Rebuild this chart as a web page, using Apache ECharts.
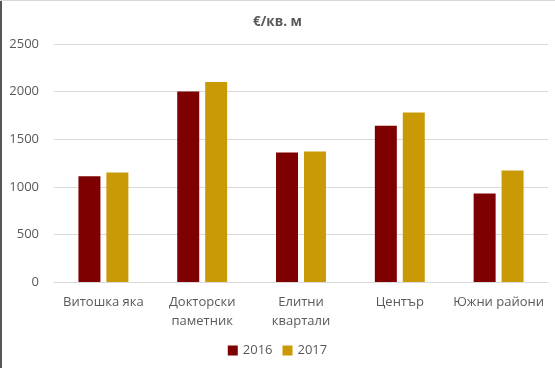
<!DOCTYPE html>
<html><head><meta charset="utf-8">
<script src="https://cdn.jsdelivr.net/npm/echarts@6/dist/echarts.min.js"></script>
<style>html,body{margin:0;padding:0;background:#fff}#c{width:555px;height:368px}</style>
</head><body><div id="c"></div>
<script>
const categories = ['Витошка яка', 'Докторски\nпаметник', 'Елитни\nквартали', 'Център', 'Южни райони'];
const values2016 = [1110, 2000, 1360, 1640, 930];
const values2017 = [1150, 2100, 1370, 1780, 1170];
const seriesNames = ['2016', '2017'];
const yTicks = [0, 500, 1000, 1500, 2000, 2500];

const font = '"Open Sans", "Noto Sans", sans-serif';
const chart = echarts.init(document.getElementById('c'), null, {renderer: 'canvas'});
chart.setOption({
  animation: false,
  backgroundColor: '#fff',
  title: {
    text: '€/кв. м', left: 'center', top: 10,
    textStyle: {fontFamily: font, fontSize: 13.5, fontWeight: 'bold', color: '#595959'}
  },
  legend: {
    data: seriesNames, bottom: 6, left: 'center',
    itemWidth: 10, itemHeight: 10, itemGap: 10, icon: 'rect',
    textStyle: {fontFamily: font, fontSize: 13, color: '#595959'}
  },
  grid: {left: 54, right: 7, top: 44, bottom: 86},
  xAxis: {
    type: 'category', data: categories,
    axisLine: {lineStyle: {color: '#d9d9d9'}},
    axisTick: {show: false},
    axisLabel: {fontFamily: font, fontSize: 13, color: '#595959', margin: 11, lineHeight: 19, interval: 0}
  },
  yAxis: {
    type: 'value', min: yTicks[0], max: yTicks[yTicks.length - 1], interval: 500,
    axisLine: {show: false}, axisTick: {show: false},
    splitLine: {lineStyle: {color: '#d9d9d9'}},
    axisLabel: {fontFamily: font, fontSize: 13, color: '#595959', margin: 15,
      formatter: v => String(v)}
  },
  series: [
    {name: seriesNames[0], type: 'bar', data: values2016, barWidth: 22, barGap: '27%', itemStyle: {color: '#7f0000'}},
    {name: seriesNames[1], type: 'bar', data: values2017, barWidth: 22, itemStyle: {color: '#c99a06'}}
  ],
  graphic: [
    {type: 'rect', shape: {x: 0, y: 0, width: 2, height: 368}, style: {fill: '#555'}},
    {type: 'rect', shape: {x: 0, y: 0, width: 555, height: 1}, style: {fill: '#d9d9d9'}}
  ]
});
</script></body></html>
